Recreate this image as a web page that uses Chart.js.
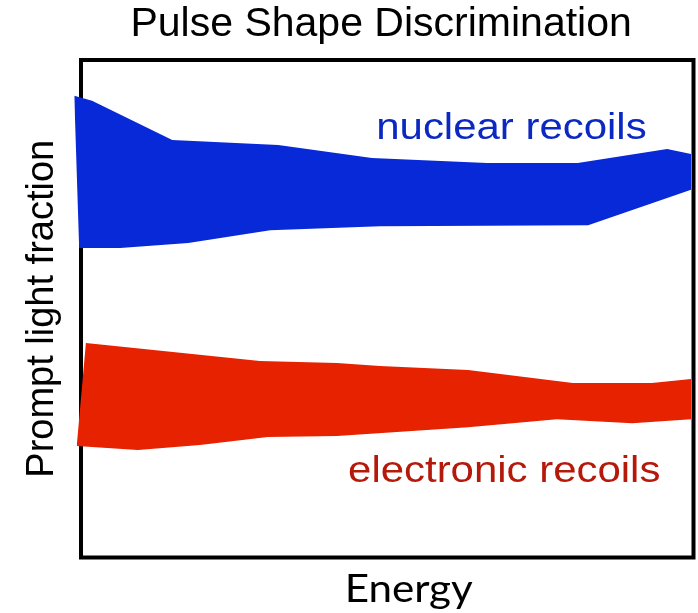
<!DOCTYPE html>
<html><head><meta charset="utf-8">
<script src="https://cdn.jsdelivr.net/npm/chart.js@4"></script>
<style>html,body{margin:0;padding:0;background:#fff}#wrap{width:698px;height:613px;position:relative}</style>
</head><body><div id="wrap"><canvas id="c"></canvas></div>
<script>
// Energy (arbitrary units, frame spans 0..100) and prompt light fraction (frame spans 0..1)
const nrUpperEnergy = [-1.1, 1.8, 14.9, 32.2, 47.5, 66.3, 81.1, 95.7, 99.6];
const nrUpperPLF    = [0.928, 0.918, 0.839, 0.829, 0.803, 0.793, 0.793, 0.821, 0.811];
const nrLowerEnergy = [-1.1, -0.3, 6.4, 17.5, 30.9, 48.8, 82.8, 99.6];
const nrLowerPLF    = [0.928, 0.622, 0.622, 0.632, 0.658, 0.666, 0.668, 0.739];
const erUpperEnergy = [-0.7, 0.8, 29.2, 41.8, 48.8, 63.2, 80.3, 93.2, 99.6];
const erUpperPLF    = [0.224, 0.431, 0.395, 0.391, 0.385, 0.377, 0.351, 0.351, 0.359];
const erLowerEnergy = [-0.7, 9.3, 19.4, 30.5, 41.8, 63.2, 77.7, 90.0, 99.6];
const erLowerPLF    = [0.224, 0.216, 0.226, 0.242, 0.244, 0.262, 0.278, 0.270, 0.278];

const titleText = 'Pulse Shape Discrimination';
const yTitleText = 'Prompt light fraction';
const xTitleText = 'Energy';
const bandNames = ['nuclear recoils', 'electronic recoils'];

const pts = (xs, ys) => xs.map((v, i) => ({x: v, y: ys[i]}));

const labelConfig = [
  {text: bandNames[0], energy: 48.2, plf: 0.841, color: '#0b28c2'},
  {text: bandNames[1], energy: 43.6, plf: 0.152, color: '#b5190a'}
];

const framePlugin = {
  id: 'frame',
  beforeDatasetsDraw(chart) {
    const {ctx, scales: {x, y}} = chart;
    const l = x.getPixelForValue(0), r = x.getPixelForValue(100);
    const t = y.getPixelForValue(1), b = y.getPixelForValue(0);
    ctx.save();
    ctx.lineWidth = 4;
    ctx.strokeStyle = '#000';
    ctx.strokeRect(l, t, r - l, b - t);
    ctx.restore();
  }
};

const labelPlugin = {
  id: 'bandLabels',
  afterDatasetsDraw(chart) {
    const {ctx, scales: {x, y}} = chart;
    for (const lab of labelConfig) {
      const px = x.getPixelForValue(lab.energy), py = y.getPixelForValue(lab.plf);
      ctx.save();
      ctx.translate(px, py);
      ctx.scale(1.165, 1);
      ctx.font = '36px "Liberation Sans", Arial, sans-serif';
      ctx.fillStyle = lab.color;
      ctx.textAlign = 'left';
      ctx.textBaseline = 'alphabetic';
      ctx.fillText(lab.text, 0, 0);
      ctx.restore();
    }
    // x-axis title
    const cx = x.getPixelForValue(53.5);
    const by = y.getPixelForValue(0) + 44.5;
    ctx.save();
    ctx.translate(cx, by);
    ctx.scale(1.11, 1);
    ctx.font = '38px Lato, "Open Sans", sans-serif';
    ctx.fillStyle = '#000';
    ctx.textAlign = 'center';
    ctx.textBaseline = 'alphabetic';
    ctx.fillText(xTitleText, 0, 0);
    ctx.restore();
  }
};

Chart.defaults.font.family = '"Liberation Sans", Arial, sans-serif';

const band = (data, color, fill) => ({
  data, fill, backgroundColor: color, borderColor: color, borderWidth: 0,
  pointRadius: 0, pointHoverRadius: 0, tension: 0, clip: false
});

new Chart(document.getElementById('c'), {
  type: 'line',
  data: {
    datasets: [
      band(pts(nrUpperEnergy, nrUpperPLF), '#0829d8', '+1'),
      band(pts(nrLowerEnergy, nrLowerPLF), '#0829d8', false),
      band(pts(erUpperEnergy, erUpperPLF), '#e62200', '+1'),
      band(pts(erLowerEnergy, erLowerPLF), '#e62200', false)
    ]
  },
  options: {
    responsive: true,
    maintainAspectRatio: false,
    animation: false,
    events: [],
    layout: {padding: {left: 0, top: 0, right: 4.5, bottom: 55.5}},
    plugins: {
      legend: {display: false},
      tooltip: {enabled: false},
      title: {
        display: true, text: titleText, color: '#000', fullSize: false,
        font: {size: 41, weight: 'normal', lineHeight: 1.2},
        padding: {top: 0.5, bottom: 10.3}
      }
    },
    scales: {
      x: {type: 'linear', min: -2, max: 100, display: false},
      y: {
        type: 'linear', min: 0, max: 1, display: true,
        ticks: {display: false},
        grid: {display: false, drawTicks: false, tickLength: 0},
        border: {display: false},
        title: {
          display: true, text: yTitleText, color: '#000',
          font: {size: 38, weight: 'normal', lineHeight: 1.2},
          padding: {top: 20, bottom: 3.15}
        }
      }
    }
  },
  plugins: [framePlugin, labelPlugin]
});
</script>
</body></html>
